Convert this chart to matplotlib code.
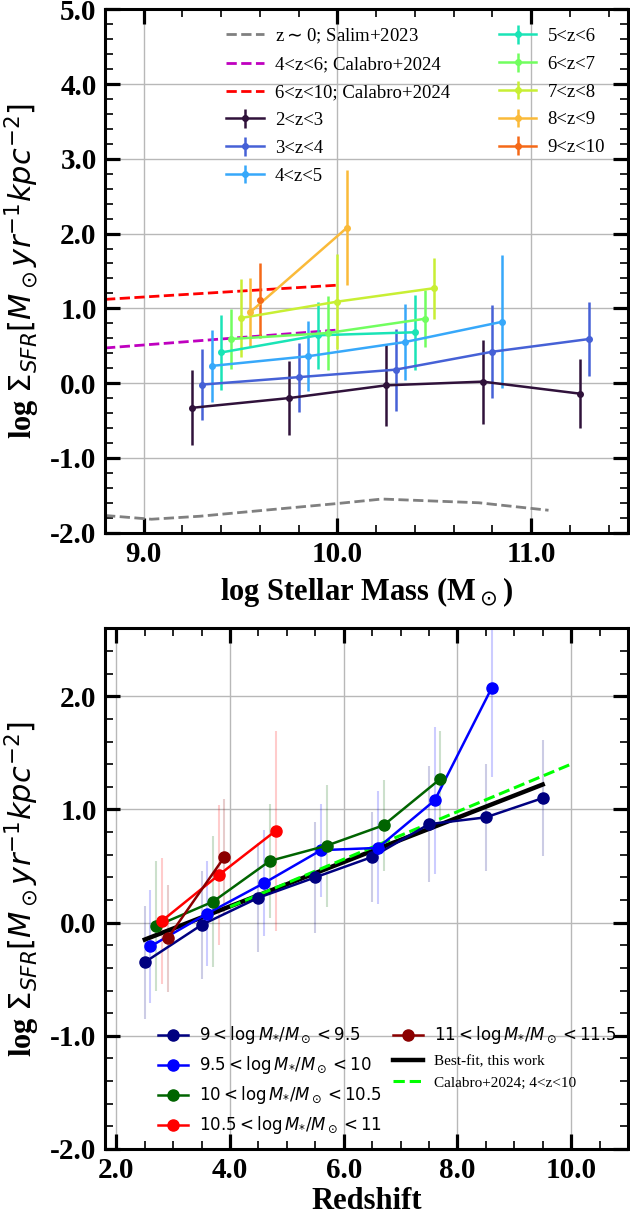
import numpy as np
import matplotlib
matplotlib.use('Agg')
import matplotlib.pyplot as plt
from matplotlib.ticker import AutoMinorLocator, FormatStrFormatter, MultipleLocator

plt.rcParams['font.family'] = ['Liberation Serif', 'DejaVu Serif']
plt.rcParams['axes.unicode_minus'] = False
plt.rcParams['mathtext.fontset'] = 'dejavusans'

#### Top panel data: Sigma_SFR vs stellar mass in redshift bins
z_labels = ['2<z<3', '3<z<4', '4<z<5', '5<z<6', '6<z<7', '7<z<8', '8<z<9', '9<z<10']
mass_z = [[9.25, 9.75, 10.25, 10.75, 11.25],
          [9.30, 9.80, 10.30, 10.80, 11.30],
          [9.35, 9.85, 10.35, 10.85],
          [9.40, 9.90, 10.40],
          [9.45, 9.95, 10.45],
          [9.50, 10.00, 10.50],
          [9.55, 10.05],
          [9.60]]
sfr_z = [[-0.33, -0.20, -0.03, 0.02, -0.14],
         [-0.02, 0.08, 0.18, 0.42, 0.59],
         [0.23, 0.36, 0.55, 0.82],
         [0.41, 0.64, 0.68],
         [0.59, 0.67, 0.86],
         [0.87, 1.09, 1.27],
         [0.95, 2.08],
         [1.11]]
err_z = [[0.50, 0.50, 0.55, 0.56, 0.46],
         [0.47, 0.46, 0.55, 0.62, 0.49],
         [0.48, 0.47, 0.51, 0.89],
         [0.50, 0.45, 0.50],
         [0.40, 0.50, 0.38],
         [0.52, 0.64, 0.41],
         [0.46, 0.77],
         [0.50]]

# literature relations
salim_mass = [8.8, 9.04, 9.29, 9.58, 10.0, 10.23, 10.53, 10.73, 11.09]
salim_sfr = [-1.77, -1.82, -1.78, -1.71, -1.61, -1.55, -1.58, -1.60, -1.70]
cal_mass = [8.8, 10.0]
cal46_sfr = [0.47, 0.71]
cal610_sfr = [1.12, 1.31]

#### Bottom panel data: Sigma_SFR vs redshift in mass bins
m_labels = [r'$9 < \log M_{*}/M_\odot < 9.5$', r'$9.5 < \log M_{*}/M_\odot < 10$',
            r'$10 < \log M_{*}/M_\odot < 10.5$', r'$10.5 < \log M_{*}/M_\odot < 11$',
            r'$11 < \log M_{*}/M_\odot < 11.5$']
m_colors = ['navy', 'blue', 'darkgreen', 'red', 'darkred']
z_m = [[2.5, 3.5, 4.5, 5.5, 6.5, 7.5, 8.5, 9.5],
       [2.6, 3.6, 4.6, 5.6, 6.6, 7.6, 8.6],
       [2.7, 3.7, 4.7, 5.7, 6.7, 7.7],
       [2.8, 3.8, 4.8],
       [2.9, 3.9]]
sfr_m = [[-0.35, -0.02, 0.22, 0.40, 0.58, 0.87, 0.93, 1.10],
         [-0.21, 0.08, 0.35, 0.64, 0.66, 1.08, 2.07],
         [-0.03, 0.185, 0.545, 0.68, 0.86, 1.27],
         [0.015, 0.42, 0.81],
         [-0.14, 0.58]]
err_m = [[0.50, 0.48, 0.48, 0.49, 0.40, 0.51, 0.47, 0.51],
         [0.50, 0.46, 0.47, 0.41, 0.50, 0.65, 0.78],
         [0.57, 0.58, 0.50, 0.54, 0.40, 0.42],
         [0.56, 0.62, 0.88],
         [0.47, 0.51]]

fit_z = [2.5, 9.5]
fit_sfr = [-0.15, 1.22]
cal_z = [4.0, 10.0]
cal_z_sfr = [0.14, 1.40]

ylab = r'log $\Sigma_{SFR} [M_\odot yr^{-1} kpc^{-2}]$'


def style_axis(ax, xmaj, xminor, ymaj, yminor):
    ax.xaxis.set_major_locator(MultipleLocator(xmaj))
    ax.xaxis.set_minor_locator(AutoMinorLocator(xminor))
    ax.yaxis.set_major_locator(MultipleLocator(ymaj))
    ax.yaxis.set_minor_locator(AutoMinorLocator(yminor))
    ax.xaxis.set_major_formatter(FormatStrFormatter('%.1f'))
    ax.yaxis.set_major_formatter(FormatStrFormatter('%.1f'))
    ax.tick_params(which='both', direction='in', top=True, right=True)
    ax.tick_params(which='major', length=11, width=2.3, labelsize=21, pad=6)
    ax.tick_params(which='minor', length=6, width=1.2)
    for lab in ax.get_xticklabels() + ax.get_yticklabels():
        lab.set_fontweight('bold')
    for sp in ax.spines.values():
        sp.set_linewidth(2.2)
    ax.grid(True, which='major', color='#b8b8b8', linewidth=1)
    ax.set_axisbelow(True)


fig = plt.figure(figsize=(6.3, 12.17), dpi=100)

#First plot: stellar mass
ax1 = fig.add_axes([0.1667, 0.5623, 0.830, 0.4301])
cols = plt.cm.turbo(np.arange(8) / 9)

ax1.plot(salim_mass, salim_sfr, '--', color='gray', lw=2, label=r'z$\sim$0; Salim+2023')
ax1.plot(cal_mass, cal46_sfr, '--', color='m', lw=2, label='4<z<6; Calabro+2024')
ax1.plot(cal_mass, cal610_sfr, '--', color='r', lw=2, label='6<z<10; Calabro+2024')
for i in range(len(z_labels)):
    ax1.errorbar(mass_z[i], sfr_z[i], yerr=err_z[i], color=cols[i], marker='o',
                 ms=4, lw=1.8, elinewidth=1.8, label=z_labels[i])

ax1.set_xlim(8.8, 11.5)
ax1.set_ylim(-2.0, 5.0)
style_axis(ax1, 1.0, 5, 1.0, 5)
ax1.set_xlabel(r'log Stellar Mass (M$_\odot$)', fontsize=22, fontweight='bold', labelpad=5)
ax1.set_ylabel(ylab, fontsize=22, fontweight='bold', labelpad=6)
ax1.legend(ncol=2, frameon=False, fontsize=13.5, loc='upper left',
           bbox_to_anchor=(0.214, 0.985), borderpad=0, labelspacing=0.57,
           handletextpad=0.6, columnspacing=2.6)

#Second plot: redshift
ax2 = fig.add_axes([0.1667, 0.0559, 0.830, 0.4278])
ax2.plot(fit_z, fit_sfr, color='black', lw=3.2, zorder=2, label='Best-fit, this work')
ax2.plot(cal_z, cal_z_sfr, '--', color='lime', lw=2.2, zorder=2.5, label='Calabro+2024; 4<z<10')
for i in range(len(m_labels)):
    ax2.errorbar(z_m[i], sfr_m[i], yerr=err_m[i], fmt='none', ecolor=m_colors[i],
                 alpha=0.2, elinewidth=1.5, zorder=1.5)
    ax2.plot(z_m[i], sfr_m[i], color=m_colors[i], marker='o', ms=8, lw=1.8,
             zorder=3, label=m_labels[i])

ax2.set_xlim(1.8, 11.0)
ax2.set_ylim(-2.0, 2.6)
style_axis(ax2, 2.0, 4, 1.0, 5)
ax2.set_xlabel('Redshift', fontsize=22, fontweight='bold', labelpad=2)
ax2.set_ylabel(ylab, fontsize=22, fontweight='bold', labelpad=6)

h, l = ax2.get_legend_handles_labels()
order = [2, 3, 4, 5, 6, 0, 1]
leg = ax2.legend([h[k] for k in order], [l[k] for k in order], ncol=2, frameon=False,
                 fontsize=11, loc='lower left', bbox_to_anchor=(0.086, 0.01),
                 borderpad=0, labelspacing=0.52, handletextpad=0.7, columnspacing=0.7)
for t in leg.get_texts():
    if t.get_text().startswith('$'):
        t.set_fontsize(12.0)

fig.savefig('out.png', dpi=100)
